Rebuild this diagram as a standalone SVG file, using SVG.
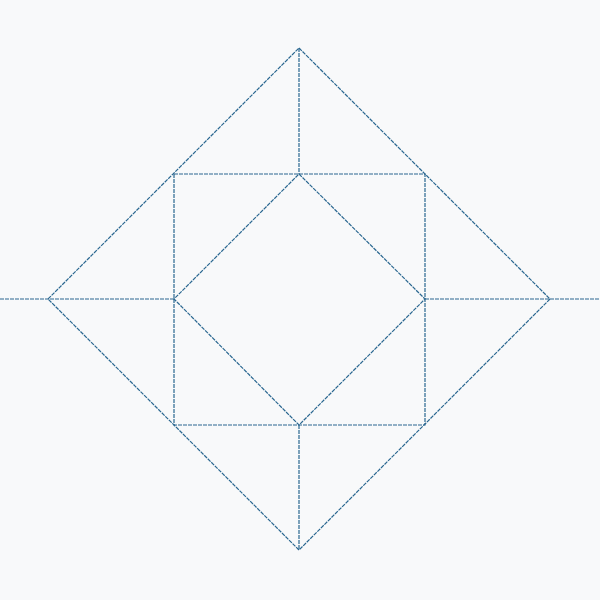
<svg xmlns="http://www.w3.org/2000/svg" width="600" height="600" viewBox="0 0 600 600">
<style>
.l{fill:none;stroke:#2a6790;stroke-width:1.2;stroke-dasharray:4,1}
</style>
<rect width="600" height="600" fill="#f8f9fa"/>
<g id="connectors">
<polygon class="l" points="299,48 550,299 299,550 48,299"/>
<rect class="l" x="174" y="174" width="251" height="251"/>
<polygon class="l" points="299,174 425,299 299,425 174,299"/>
<line class="l" x1="0" y1="299" x2="174" y2="299"/>
<line class="l" x1="425" y1="299" x2="600" y2="299"/>
<line class="l" x1="299" y1="48" x2="299" y2="174"/>
<line class="l" x1="299" y1="425" x2="299" y2="550"/>
</g>
</svg>
